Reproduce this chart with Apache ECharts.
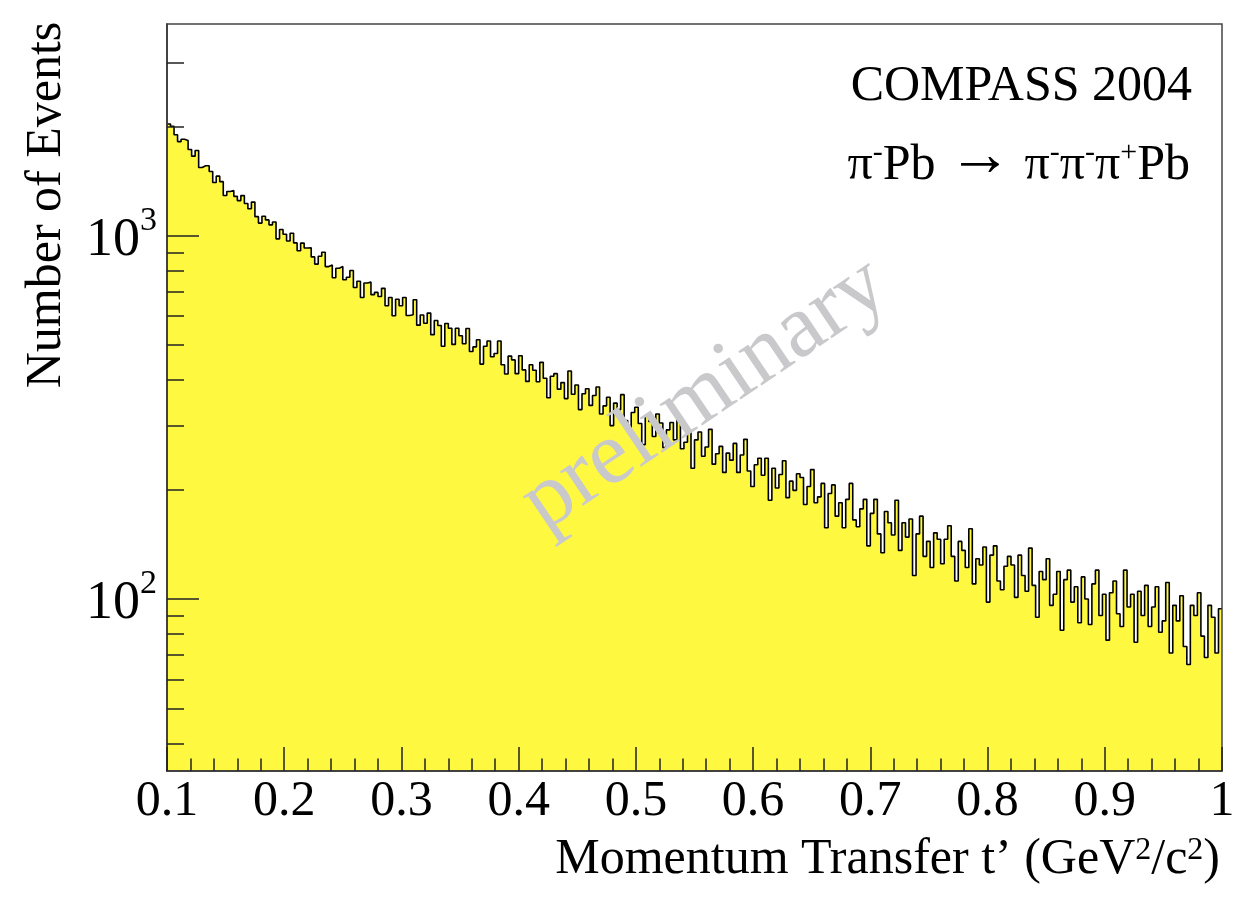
<!DOCTYPE html>
<html>
<head>
<meta charset="utf-8">
<title>COMPASS 2004 - t' distribution</title>
<script src="https://cdn.jsdelivr.net/npm/echarts@6/dist/echarts.min.js"></script>
<style>
  html, body { margin: 0; padding: 0; background: #fff; }
  #chart { width: 1255px; height: 898px; }
</style>
</head>
<body>
<div id="chart"></div>
<script>
// t' histogram: 300 bins of 0.003 GeV^2/c^2 starting at 0.1
const binStart = 0.1;
const binWidth = 0.003;
const counts = [
  2030, 2000, 1895, 1815, 1842, 1827, 1726, 1655, 1715, 1540, 1558, 1557, 1502, 1400, 1458, 1408, 1290, 1323, 1332, 1283,
  1249, 1289, 1226, 1186, 1237, 1128, 1083, 1131, 1105, 1071, 1090, 980, 1040, 1009, 967, 1015, 955, 909, 954, 925,
  926, 874, 835, 878, 900, 822, 830, 766, 813, 822, 756, 768, 802, 720, 749, 676, 741, 745, 688, 698,
  680, 716, 641, 676, 602, 668, 641, 676, 603, 606, 666, 567, 605, 574, 612, 534, 584, 566, 496, 573,
  556, 502, 556, 530, 504, 555, 480, 494, 517, 443, 496, 513, 464, 474, 513, 441, 416, 466, 455, 417,
  467, 427, 397, 441, 426, 396, 448, 405, 358, 410, 417, 378, 394, 356, 424, 366, 388, 332, 367, 379,
  341, 363, 383, 323, 340, 359, 300, 346, 332, 365, 310, 296, 326, 337, 304, 266, 320, 308, 280, 323,
  305, 261, 292, 306, 274, 313, 259, 270, 288, 229, 274, 288, 247, 262, 293, 235, 251, 263, 223, 252,
  241, 268, 223, 249, 275, 225, 204, 234, 244, 219, 244, 187, 229, 202, 220, 240, 190, 211, 199, 221,
  216, 182, 204, 227, 184, 191, 208, 157, 195, 206, 169, 184, 157, 188, 208, 165, 158, 177, 188, 140,
  172, 188, 151, 134, 174, 162, 150, 187, 136, 162, 148, 166, 116, 151, 169, 131, 144, 122, 152, 146,
  125, 146, 159, 131, 112, 144, 136, 122, 156, 110, 129, 124, 139, 98, 132, 140, 112, 106, 123, 131,
  124, 101, 132, 116, 105, 138, 109, 89, 119, 113, 129, 96, 103, 119, 82, 113, 120, 98, 108, 86,
  115, 100, 85, 110, 120, 90, 103, 77, 104, 112, 91, 84, 120, 95, 103, 76, 105, 90, 109, 84,
  95, 108, 81, 87, 111, 71, 96, 87, 102, 74, 66, 96, 90, 104, 79, 69, 96, 89, 71, 94
];

const xRange = [0.1, 1.0];
const yRange = [33.6, 3825];
const yMajorTicks = [100, 1000];
const yMinorTicks = [40, 50, 60, 70, 80, 90, 200, 300, 400, 500, 600, 700, 800, 900, 2000, 3000];

const FONT = '"Liberation Serif", "Times New Roman", serif';
const TICK = { color: '#222', width: 1.5 };

// log axis drawn as a value axis over log10(counts)
const steps = counts.map((c, i) => [binStart + i * binWidth, Math.log10(c)]);
steps.push([binStart + counts.length * binWidth, Math.log10(counts[counts.length - 1])]);

const chart = echarts.init(document.getElementById('chart'), null, { renderer: 'canvas' });

chart.setOption({
  animation: false,
  backgroundColor: '#fff',
  grid: {
    left: 167, top: 24, width: 1055, height: 747, z: 10,
    show: true, borderColor: '#444', borderWidth: 1.5, backgroundColor: 'transparent'
  },
  xAxis: {
    type: 'value', min: xRange[0], max: xRange[1], interval: 0.1, z: 10,
    axisLine: { show: true, onZero: false, lineStyle: { color: '#333', width: 1.5 } },
    axisTick: { inside: true, length: 24, lineStyle: TICK },
    minorTick: { show: true, splitNumber: 5, length: 12.5, lineStyle: TICK },
    splitLine: { show: false },
    axisLabel: {
      color: '#000', fontFamily: FONT, fontSize: 50, margin: 6,
      formatter: (v) => String(+v.toFixed(1))
    }
  },
  yAxis: [
    {
      type: 'value', position: 'left', z: 10,
      min: Math.log10(yRange[0]), max: Math.log10(yRange[1]),
      axisLine: { show: true, lineStyle: { color: '#333', width: 1.5 } },
      axisTick: { inside: true, length: 32, lineStyle: TICK, customValues: yMajorTicks.map(Math.log10) },
      splitLine: { show: false },
      axisLabel: {
        margin: 10,
        customValues: yMajorTicks.map(Math.log10),
        formatter: (v) => '{b|10}{s|' + Math.round(v) + '}',
        rich: {
          b: { fontFamily: FONT, fontSize: 54, color: '#000', padding: [10, 0, 0, 0] },
          s: { fontFamily: FONT, fontSize: 34, color: '#000', verticalAlign: 'top' }
        }
      }
    },
    {
      type: 'value', position: 'left', z: 10,
      min: Math.log10(yRange[0]), max: Math.log10(yRange[1]),
      axisLine: { show: false },
      axisTick: { inside: true, length: 17, lineStyle: TICK, customValues: yMinorTicks.map(Math.log10) },
      axisLabel: { show: false },
      splitLine: { show: false }
    }
  ],
  series: [{
    type: 'line',
    step: 'end',
    data: steps,
    showSymbol: false,
    symbol: 'none',
    lineStyle: { color: '#000', width: 1.6 },
    areaStyle: { color: '#fff840', opacity: 1, origin: 'start' },
    z: 2
  }],
  graphic: [
    {
      type: 'text', x: 1192, y: 87, z: 50,
      style: { text: 'COMPASS 2004', font: '50px ' + FONT, fill: '#000', textAlign: 'right', textVerticalAlign: 'middle' }
    },
    {
      type: 'text', x: 1190, y: 166, z: 50,
      style: {
        text: '{n|π}{s|-}{n|Pb }{a|→}{n| π}{s|-}{n|π}{s|-}{n|π}{s|+}{n|Pb}',
        textAlign: 'right', textVerticalAlign: 'middle',
        rich: {
          n: { fontFamily: FONT, fontSize: 50, lineHeight: 56, fill: '#000' },
          a: { fontFamily: FONT, fontSize: 64, lineHeight: 36, padding: [0, 0, 16, 0], fill: '#000' },
          s: { fontFamily: FONT, fontSize: 30, fill: '#000', verticalAlign: 'top' }
        }
      }
    },
    {
      type: 'text', x: 1220, y: 860, z: 50,
      style: {
        text: '{n|Momentum Transfer t’ (GeV}{s|2}{n|/c}{s|2}{n|)}',
        textAlign: 'right', textVerticalAlign: 'middle',
        rich: {
          n: { fontFamily: FONT, fontSize: 50, fill: '#000' },
          s: { fontFamily: FONT, fontSize: 32, fill: '#000', verticalAlign: 'top' }
        }
      }
    },
    {
      type: 'text', x: 47, y: 205, rotation: Math.PI / 2, z: 50,
      style: { text: 'Number of Events', font: '50px ' + FONT, fill: '#000', textAlign: 'center', textVerticalAlign: 'middle' }
    },
    {
      type: 'text', x: 705, y: 395, rotation: 34 * Math.PI / 180, z: 60,
      style: { text: 'preliminary', font: '90px ' + FONT, fill: '#c9c9cc', textAlign: 'center', textVerticalAlign: 'middle' }
    }
  ]
});
</script>
</body>
</html>
